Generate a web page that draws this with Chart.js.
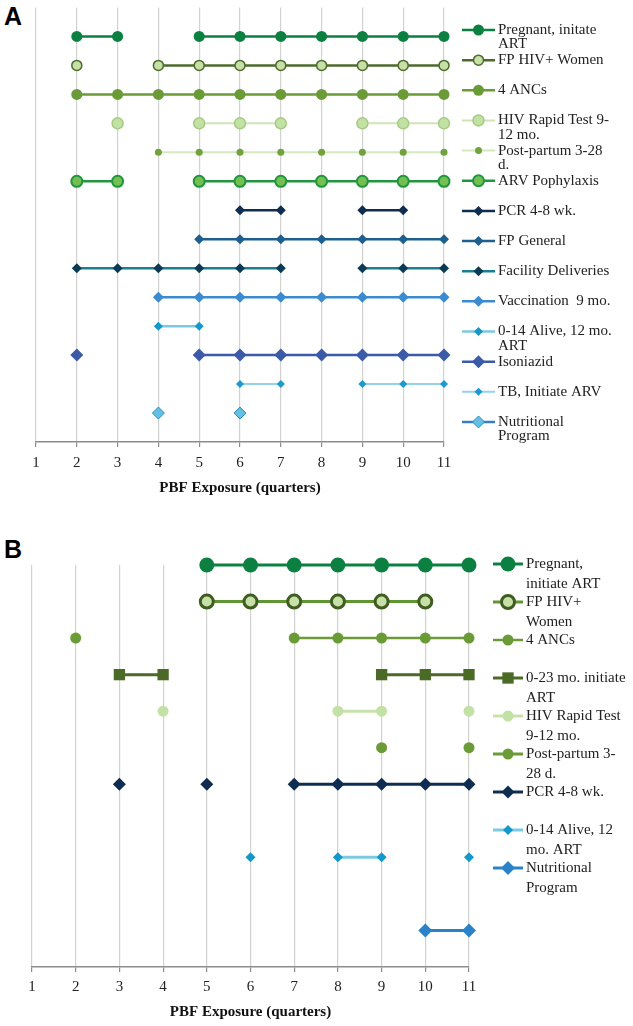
<!DOCTYPE html>
<html>
<head>
<meta charset="utf-8">
<script src="https://cdn.jsdelivr.net/npm/chart.js@4.4.1/dist/chart.umd.min.js"></script>
<style>
  body { margin: 0; background: #fff; width: 633px; height: 1026px; position: relative; overflow: hidden; }
  canvas { position: absolute; left: 0; }
  .panel { position: absolute; left: 4px; font: bold 25px "Liberation Sans", Arial, sans-serif; color: #000; }
</style>
</head>
<body>
<div class="panel" style="top:2px">A</div>
<canvas id="chartA" width="633" height="505" style="top:0"></canvas>
<div class="panel" style="top:535px">B</div>
<canvas id="chartB" width="633" height="511" style="top:515px"></canvas>
<script>
/**************************
* Datasets
**************************/

// x axis: PBF exposure in quarters
var quarters = ['1', '2', '3', '4', '5', '6', '7', '8', '9', '10', '11']

// Panel A - quarters in which each indicator was reported
var aNames = ['Pregnant, initate\nART', 'FP HIV+ Women', '4 ANCs', 'HIV Rapid Test 9-\n12 mo.',
	'Post-partum 3-28\nd.', 'ARV Pophylaxis', 'PCR 4-8 wk.', 'FP General', 'Facility Deliveries',
	'Vaccination  9 mo.', '0-14 Alive, 12 mo.\nART', 'Isoniazid', 'TB, Initiate ARV', 'Nutritional\nProgram']
var aPregnant    = [2, 3, 5, 6, 7, 8, 9, 10, 11]
var aFpHiv       = [2, 4, 5, 6, 7, 8, 9, 10, 11]
var aAnc         = [2, 3, 4, 5, 6, 7, 8, 9, 10, 11]
var aRapidTest   = [3, 5, 6, 7, 9, 10, 11]
var aPostPartum  = [4, 5, 6, 7, 8, 9, 10, 11]
var aArv         = [2, 3, 5, 6, 7, 8, 9, 10, 11]
var aPcr         = [6, 7, 9, 10]
var aFpGeneral   = [5, 6, 7, 8, 9, 10, 11]
var aFacility    = [2, 3, 4, 5, 6, 7, 9, 10, 11]
var aVaccination = [4, 5, 6, 7, 8, 9, 10, 11]
var aAlive014    = [4, 5]
var aIsoniazid   = [2, 5, 6, 7, 8, 9, 10, 11]
var aTb          = [6, 7, 9, 10, 11]
var aNutrition   = [4, 6]
var aRows        = [14, 13, 12, 11, 10, 9, 8, 7, 6, 5, 4, 3, 2, 1]

// Panel B
var bNames = ['Pregnant,\ninitiate ART', 'FP HIV+\nWomen', '4 ANCs', '0-23 mo. initiate\nART',
	'HIV Rapid Test\n9-12 mo.', 'Post-partum 3-\n28 d.', 'PCR 4-8 wk.', '0-14 Alive, 12\nmo. ART',
	'Nutritional\nProgram']
var bPregnant   = [5, 6, 7, 8, 9, 10, 11]
var bFpHiv      = [5, 6, 7, 8, 9, 10]
var bAnc        = [2, 7, 8, 9, 10, 11]
var bArt023     = [3, 4, 9, 10, 11]
var bRapidTest  = [4, 8, 9, 11]
var bPostPartum = [9, 11]
var bPcr        = [3, 5, 7, 8, 9, 10, 11]
var bAlive014   = [6, 8, 9, 11]
var bNutrition  = [10, 11]
var bRows       = [11, 10, 9, 8, 7, 6, 5, 3, 1]

/*
* Helpers
*/
Chart.defaults.font.family = '"Liberation Serif", "Times New Roman", serif'
Chart.defaults.color = '#222'

// null where a quarter is missing, so the line breaks there
function series(present, row) {
	return quarters.map(function (q) { return present.indexOf(+q) >= 0 ? row : null })
}

function ds(name, present, row, st) {
	return {
		label: name,
		data: series(present, row),
		borderColor: st.line,
		borderWidth: st.lw || 2.5,
		pointStyle: st.shape || 'circle',
		pointRadius: st.r,
		pointBackgroundColor: st.fill || st.line,
		pointBorderColor: st.edge || st.fill || st.line,
		pointBorderWidth: st.ew || 0,
		clip: false,
		spanGaps: false
	}
}

function marker(ctx, d, x, y) {
	var r = d.pointRadius
	ctx.beginPath()
	if (d.pointStyle === 'rect') {
		var s = r * Math.SQRT1_2
		ctx.rect(x - s, y - s, 2 * s, 2 * s)
	} else if (d.pointStyle === 'rectRot') {
		ctx.moveTo(x, y - r); ctx.lineTo(x + r, y); ctx.lineTo(x, y + r); ctx.lineTo(x - r, y); ctx.closePath()
	} else {
		ctx.arc(x, y, r, 0, Math.PI * 2)
	}
	ctx.fillStyle = d.pointBackgroundColor
	ctx.fill()
	if (d.pointBorderWidth) {
		ctx.lineWidth = d.pointBorderWidth
		ctx.strokeStyle = d.pointBorderColor
		ctx.stroke()
	}
}

// Excel-style legend on the right, one entry per series
var sideLegend = {
	id: 'sideLegend',
	afterDraw: function (chart, args, o) {
		var ctx = chart.ctx
		ctx.save()
		ctx.font = o.size + 'px "Liberation Serif", "Times New Roman", serif'
		ctx.textBaseline = 'middle'
		ctx.textAlign = 'left'
		chart.data.datasets.forEach(function (d, i) {
			var y = o.top + i * o.step
			ctx.beginPath()
			ctx.moveTo(o.x, y)
			ctx.lineTo(o.x + o.len, y)
			ctx.strokeStyle = d.borderColor
			ctx.lineWidth = d.borderWidth
			ctx.stroke()
			marker(ctx, d, o.x + o.len / 2, y)
			ctx.fillStyle = '#222'
			d.label.split('\n').forEach(function (t, k) {
				ctx.fillText(t, o.x + o.len + 3, y + k * o.lh)
			})
		})
		ctx.restore()
	}
}

function options(pad, yMax, xHeight, tickPad, titlePad, legend) {
	return {
		responsive: false,
		animation: false,
		layout: {padding: pad},
		scales: {
			x: {
				grid: {color: '#d2d2d2', lineWidth: 1.2, tickLength: 5, tickColor: '#8c8c8c'},
				border: {color: '#8c8c8c', width: 1.5},
				ticks: {font: {size: 15}, color: '#222', padding: tickPad, maxRotation: 0, autoSkip: false},
				title: {display: true, text: 'PBF Exposure (quarters)', color: '#111',
					font: {size: 15, weight: 'bold'}, padding: {top: 0, bottom: titlePad}},
				afterFit: function (s) { s.height = xHeight }
			},
			y: {display: false, min: 0, max: yMax}
		},
		plugins: {legend: {display: false}, tooltip: {enabled: false}, sideLegend: legend}
	}
}

/*
* Chart definitions
*/
var aStyles = [
	{line: '#0b8040', r: 5.5},
	{line: '#4b6b2a', fill: '#c6e0a8', edge: '#4b6b2a', ew: 1.5, r: 5},
	{line: '#6b9b36', r: 5.5},
	{line: '#cfe5b8', fill: '#c3e0a5', edge: '#a3cc80', ew: 1.5, r: 5.5, lw: 2},
	{line: '#d3e8c0', fill: '#72a23e', r: 3.5, lw: 2},
	{line: '#22963e', fill: '#74bf52', edge: '#1f963e', ew: 2, r: 5.5},
	{line: '#0e2d50', shape: 'rectRot', r: 5},
	{line: '#1d5f8f', shape: 'rectRot', r: 5},
	{line: '#1a7f8f', fill: '#0a3b55', shape: 'rectRot', r: 5},
	{line: '#3b8bd0', shape: 'rectRot', r: 5.5},
	{line: '#7cc9e2', fill: '#1398cc', shape: 'rectRot', r: 4.5},
	{line: '#3b5ba8', shape: 'rectRot', r: 6.5},
	{line: '#92d3ea', fill: '#1a9ad0', shape: 'rectRot', r: 4, lw: 2},
	{line: '#3a7cc2', fill: '#62c1e2', edge: '#2d8bc4', ew: 1, shape: 'rectRot', r: 6}
]
var aData = [aPregnant, aFpHiv, aAnc, aRapidTest, aPostPartum, aArv, aPcr, aFpGeneral,
	aFacility, aVaccination, aAlive014, aIsoniazid, aTb, aNutrition]

var chart_a = new Chart(document.getElementById('chartA'), {
	type: 'line',
	data: {
		labels: quarters,
		datasets: aData.map(function (p, i) { return ds(aNames[i], p, aRows[i], aStyles[i]) })
	},
	options: options({left: 36, right: 189, top: 2, bottom: 0}, 15, 63, 7, 8,
		{x: 462, len: 33, top: 30, step: 30.15, size: 15, lh: 14.5}),
	plugins: [sideLegend]
})

var bStyles = [
	{line: '#0b8040', r: 7.5, lw: 3},
	{line: '#5f9632', fill: '#c6e0a8', edge: '#3f5d20', ew: 3, r: 6.5, lw: 3},
	{line: '#6b9b36', r: 5.5, lw: 2.5},
	{line: '#4b6a26', shape: 'rect', r: 8, lw: 3},
	{line: '#c8e2ae', fill: '#c3e0a5', r: 5.5, lw: 3},
	{line: '#6b9b36', r: 5.5, lw: 3},
	{line: '#0e2d50', shape: 'rectRot', r: 6.5, lw: 3},
	{line: '#7cc9e2', fill: '#1398cc', shape: 'rectRot', r: 5, lw: 3},
	{line: '#2a82c8', shape: 'rectRot', r: 7, lw: 3}
]
var bData = [bPregnant, bFpHiv, bAnc, bArt023, bRapidTest, bPostPartum, bPcr, bAlive014, bNutrition]

var chart_b = new Chart(document.getElementById('chartB'), {
	type: 'line',
	data: {
		labels: quarters,
		datasets: bData.map(function (p, i) { return ds(bNames[i], p, bRows[i], bStyles[i]) })
	},
	options: options({left: 32, right: 164, top: 50, bottom: 0}, 11, 59, 6, 5,
		{x: 493, len: 30, top: 49, step: 38, size: 15, lh: 20}),
	plugins: [sideLegend]
})
</script>
</body>
</html>
